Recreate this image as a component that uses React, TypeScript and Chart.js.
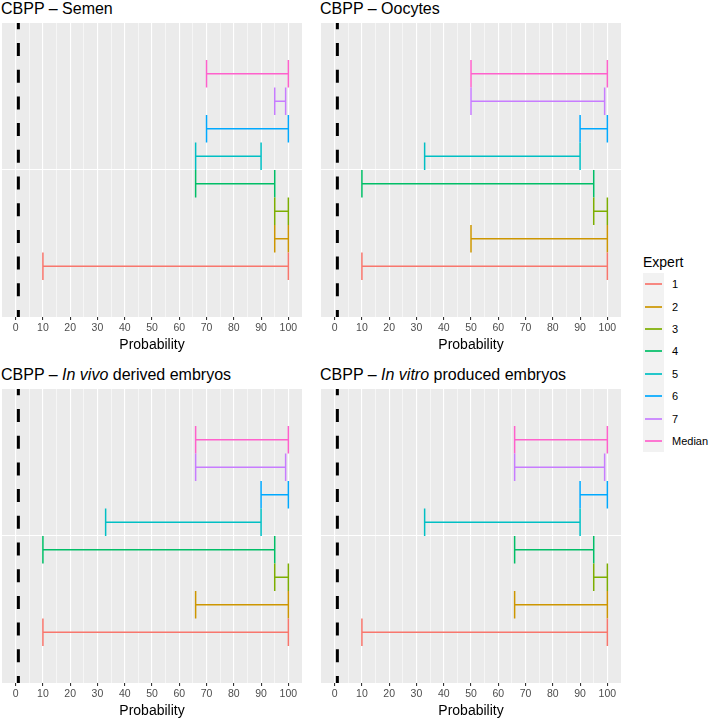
import React, { useEffect, useRef } from "react";
import { Chart, registerables } from "chart.js";

Chart.register(...registerables);

// ---------- data ----------
const experts = ["1", "2", "3", "4", "5", "6", "7", "Median"];
const expertColors = ["#F8766D", "#CD9600", "#7CAE00", "#00BE67", "#00BFC4", "#00A9FF", "#C77CFF", "#FF61CC"];

const semenLow = [10, 95, 95, 66, 66, 70, 95, 70];
const semenHigh = [100, 100, 100, 95, 90, 100, 99, 100];

const oocytesLow = [10, 50, 95, 10, 33, 90, 50, 50];
const oocytesHigh = [100, 100, 100, 95, 90, 100, 99, 100];

const inVivoLow = [10, 66, 95, 10, 33, 90, 66, 66];
const inVivoHigh = [100, 100, 100, 95, 90, 100, 99, 100];

const inVitroLow = [10, 66, 95, 66, 33, 90, 66, 66];
const inVitroHigh = [100, 100, 100, 95, 90, 100, 99, 100];

const thresholdValue = 1;

const xMajorTicks = [0, 10, 20, 30, 40, 50, 60, 70, 80, 90, 100];
const xMinorTicks = [5, 15, 25, 35, 45, 55, 65, 75, 85, 95];
const xAxisTitle = "Probability";
const legendTitle = "Expert";

const FONT = "'Liberation Sans', Arial, Helvetica, sans-serif";

type PanelProps = {
  low: number[];
  high: number[];
  left: number;
  top: number;
  width: number;
  height: number;
};

const X_MIN = -5;
const X_MAX = 105;
const Y_MIN = -0.84;
const Y_MAX = 9.84;
const CAP = 0.5;

const bgPlugin = {
  id: "panelBg",
  beforeDraw(chart: any) {
    const { ctx, chartArea } = chart;
    ctx.save();
    ctx.fillStyle = "#EBEBEB";
    ctx.fillRect(chartArea.left, chartArea.top, chartArea.right - chartArea.left, chartArea.bottom - chartArea.top);
    ctx.restore();
  },
};

function Panel({ low, high, left, top, width, height }: PanelProps) {
  const ref = useRef<HTMLCanvasElement | null>(null);
  useEffect(() => {
    if (!ref.current) return;
    const datasets: any[] = experts.map((name, i) => {
      const y = i + 1;
      const lo = low[i];
      const hi = high[i];
      return {
        label: name,
        data: [
          { x: lo, y: y - CAP },
          { x: lo, y: y + CAP },
          { x: lo, y: null },
          { x: lo, y: y },
          { x: hi, y: y },
          { x: hi, y: null },
          { x: hi, y: y - CAP },
          { x: hi, y: y + CAP },
        ],
        showLine: true,
        spanGaps: false,
        borderColor: expertColors[i],
        backgroundColor: expertColors[i],
        borderWidth: 1.5,
        pointRadius: 0,
        pointHoverRadius: 0,
        borderCapStyle: "butt",
      };
    });
    datasets.unshift({
      label: "threshold",
      data: [
        { x: thresholdValue, y: Y_MIN },
        { x: thresholdValue, y: Y_MAX },
      ],
      showLine: true,
      borderColor: "#000000",
      borderWidth: 3,
      borderDash: [13, 13.7],
      borderDashOffset: 6,
      pointRadius: 0,
      borderCapStyle: "butt",
    });
    const chart = new Chart(ref.current, {
      type: "scatter",
      data: { datasets },
      plugins: [bgPlugin],
      options: {
        animation: false,
        responsive: false,
        maintainAspectRatio: false,
        devicePixelRatio: 1,
        layout: { padding: { left: 0, right: 0, top: 0, bottom: 0 } },
        plugins: {
          legend: { display: false },
          tooltip: { enabled: false },
          title: { display: false },
        },
        scales: {
          x: {
            type: "linear",
            min: X_MIN,
            max: X_MAX,
            afterBuildTicks: (scale: any) => {
              const all = [...xMajorTicks, ...xMinorTicks].sort((a, b) => a - b);
              scale.ticks = all.map((v) => ({ value: v }));
            },
            afterFit: (scale: any) => {
              scale.height = 40;
            },
            ticks: {
              autoSkip: false,
              maxRotation: 0,
              minRotation: 0,
              padding: 2,
              color: "#4D4D4D",
              font: { family: FONT, size: 10.5 },
              callback: (v: any) => (xMajorTicks.includes(Number(v)) ? String(v) : ""),
            },
            grid: {
              color: "#FFFFFF",
              lineWidth: (ctx: any) => (ctx.tick && xMajorTicks.includes(ctx.tick.value) ? 1.1 : 0.55),
              tickColor: (ctx: any) => (ctx.tick && xMajorTicks.includes(ctx.tick.value) ? "#333333" : "rgba(0,0,0,0)"),
              tickLength: 3,
              drawTicks: true,
            },
            border: { display: false },
            title: {
              display: true,
              text: xAxisTitle,
              color: "#000000",
              font: { family: FONT, size: 14 },
              padding: { top: 0, bottom: 3.6 },
            },
          },
          y: {
            type: "linear",
            min: Y_MIN,
            max: Y_MAX,
            afterBuildTicks: (scale: any) => {
              scale.ticks = [{ value: (1 + experts.length) / 2 }];
            },
            afterFit: (scale: any) => {
              scale.width = 0;
            },
            ticks: { display: false },
            grid: { color: "#FFFFFF", lineWidth: 1.1, drawTicks: false },
            border: { display: false },
          },
        },
      } as any,
    });
    return () => chart.destroy();
  }, []);
  return (
    <canvas
      ref={ref}
      width={width}
      height={height}
      style={{ position: "absolute", left, top, width, height }}
    />
  );
}

function Title({ left, top, children }: { left: number; top: number; children: React.ReactNode }) {
  return (
    <div
      style={{
        position: "absolute",
        left,
        top,
        fontFamily: FONT,
        fontSize: 16,
        lineHeight: "18px",
        color: "#000",
        whiteSpace: "nowrap",
      }}
    >
      {children}
    </div>
  );
}

function Legend() {
  const keyTop = 273;
  const keyH = 22.4;
  return (
    <>
      <div
        style={{
          position: "absolute",
          left: 643,
          top: 253,
          fontFamily: FONT,
          fontSize: 14,
          lineHeight: "18px",
          color: "#000",
        }}
      >
        {legendTitle}
      </div>
      <div
        style={{
          position: "absolute",
          left: 643,
          top: keyTop,
          width: 21,
          height: Math.round(keyH * experts.length),
          background: "#F2F2F2",
        }}
      />
      {experts.map((name, i) => {
        const cy = Math.round(keyTop + keyH * i + keyH / 2);
        return (
          <React.Fragment key={name}>
            <div
              style={{
                position: "absolute",
                left: 645,
                top: cy - 1,
                width: 17,
                height: 2,
                background: expertColors[i],
                opacity: 0.85,
              }}
            />
            <div
              style={{
                position: "absolute",
                left: 672,
                top: cy - 7,
                fontFamily: FONT,
                fontSize: 11,
                lineHeight: "14px",
                color: "#000",
              }}
            >
              {name}
            </div>
          </React.Fragment>
        );
      })}
    </>
  );
}

export default function App() {
  return (
    <div
      style={{
        position: "fixed",
        left: 0,
        top: 0,
        width: 709,
        height: 720,
        background: "#FFFFFF",
        overflow: "hidden",
      }}
    >
      <Title left={1} top={0}>CBPP – Semen</Title>
      <Title left={320} top={0}>CBPP – Oocytes</Title>
      <Title left={1} top={366}>
        CBPP – <i>In vivo</i> derived embryos
      </Title>
      <Title left={320} top={366}>
        CBPP – <i>In vitro</i> produced embryos
      </Title>
      <Panel low={semenLow} high={semenHigh} left={2} top={23} width={300} height={334} />
      <Panel low={oocytesLow} high={oocytesHigh} left={321} top={23} width={300} height={334} />
      <Panel low={inVivoLow} high={inVivoHigh} left={2} top={389} width={300} height={334} />
      <Panel low={inVitroLow} high={inVitroHigh} left={321} top={389} width={300} height={334} />
      <Legend />
    </div>
  );
}
